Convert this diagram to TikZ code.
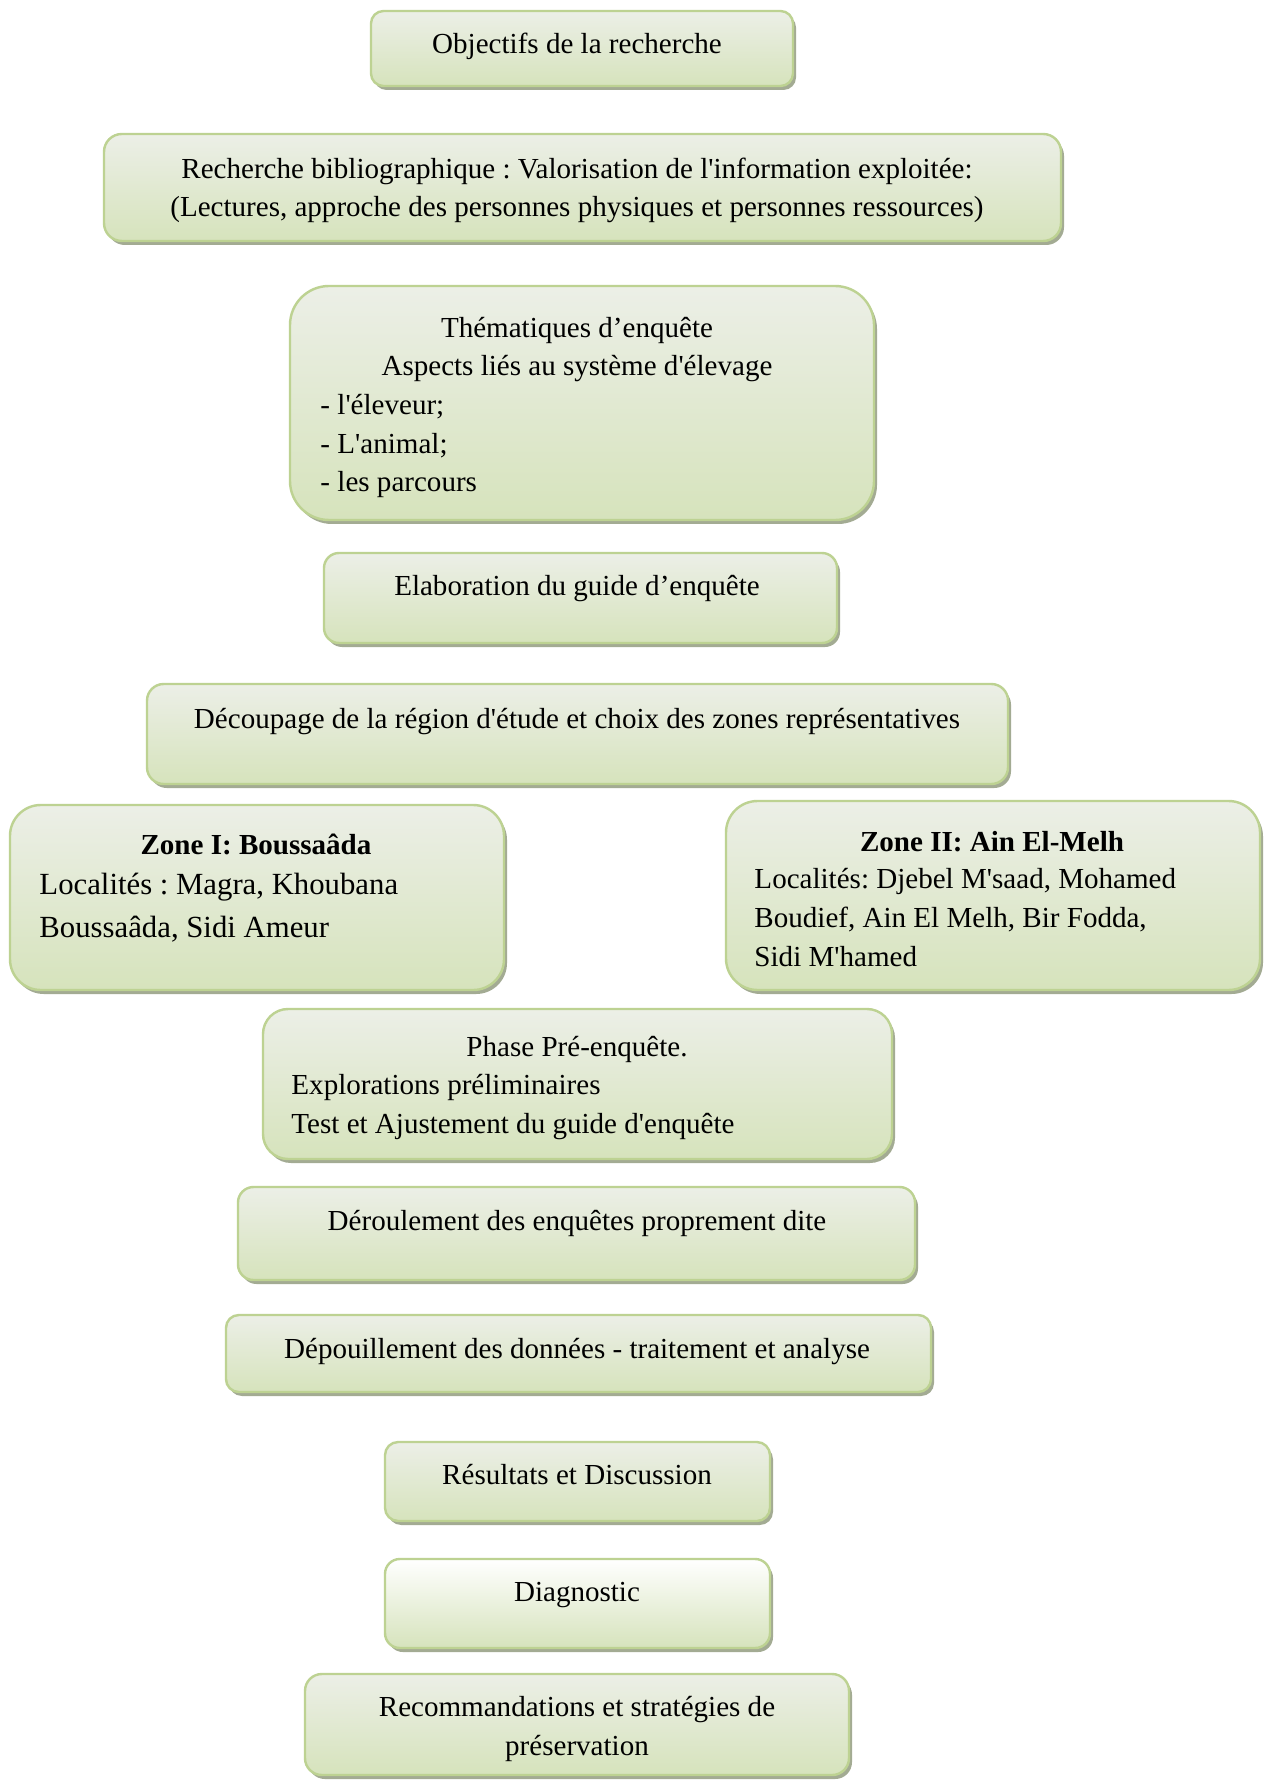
\documentclass[tikz,border=0pt]{standalone}
\usepackage{fontspec}
\setmainfont{Liberation Serif}
\usetikzlibrary{positioning}
\frenchspacing

\definecolor{cadre}{HTML}{BDD292}
\definecolor{hautbox}{HTML}{ECEFE7}
\definecolor{basbox}{HTML}{D6E3BC}
\definecolor{ombrebox}{HTML}{A3AB93}
\tikzstyle{etape}=[draw=cadre,line width=1pt,top color=hautbox,bottom color=basbox]
\tikzstyle{etapeclaire}=[draw=cadre,line width=1pt,top color=white,bottom color=basbox]
\tikzstyle{ombre}=[fill=ombrebox]
\tikzstyle{texte}=[inner sep=0pt,anchor=base,font=\fontsize{12}{16}\selectfont]
\tikzstyle{liste}=[inner sep=0pt,anchor=base west,align=left,font=\fontsize{12}{16}\selectfont]

% Straight apostrophe.
\newcommand{\apos}{\textquotesingle}

% Box with its shadow, corners rounded from its height.
\newcommand{\boite}[5][etape]{%
  \pgfmathsetmacro{\rayon}{0.413*(#5-#3)/6}
  \path[ombre,rounded corners=\rayon pt] (#2+3,#3+4) rectangle (#4+3,#5+4);
  \path[#1,rounded corners=\rayon pt] (#2,#3) rectangle (#4,#5);}

\begin{document}
\begin{tikzpicture}[x=0.413pt,y=-0.413pt]
  % Page.
  \useasboundingbox[fill=white] (0,0) rectangle (1265,1780);

  % Boxes.
  \boite{371}{11}{793}{86}
  \boite{104}{134}{1061}{241}
  \boite{290}{286}{874}{520}
  \boite{324}{553}{837}{643}
  \boite{147}{684}{1008}{784}
  \boite{10}{805}{504}{990}
  \boite{726}{801}{1260}{990}
  \boite{263}{1009}{892}{1159}
  \boite{238}{1187}{915}{1280}
  \boite{226}{1315}{931}{1392}
  \boite{385}{1442}{770}{1521}
  \boite[etapeclaire]{385}{1559}{770}{1648}
  \boite{305}{1674}{849}{1775}

  % Texts (multi-line nodes sit on their last line).
  \node[texte] (objectifs) at (577,54) {Objectifs de la recherche};
  \node[texte,align=center] (biblio) at (577,217)
    {Recherche bibliographique : Valorisation de l\apos information exploitée:\\
     (Lectures, approche des personnes physiques et personnes ressources)};
  \node[texte,align=center] (themes) at (577,376)
    {Thématiques d’enquête\\ Aspects liés au système d\apos élevage};
  \node[liste] (themes-liste) at (320,492)
    {- l\apos éleveur;\\ - L\apos animal;\\ - les parcours};
  \node[texte] (guide) at (577,595) {Elaboration du guide d’enquête};
  \node[texte] (decoupage) at (577,728)
    {Découpage de la région d\apos étude et choix des zones représentatives};

  % Zones.
  \node[texte,font=\fontsize{12}{16}\selectfont\bfseries] (zone1) at (256,854)
    {Zone I: Boussaâda};
  \node[liste,font=\fontsize{12.7}{17.6}\selectfont] (zone1-loc) at (39,937)
    {Localités : Magra, Khoubana\\ Boussaâda, Sidi Ameur};
  \node[texte,font=\fontsize{12}{16}\selectfont\bfseries] (zone2) at (992,851)
    {Zone II: Ain El-Melh};
  \node[liste] (zone2-loc) at (754,966)
    {Localités: Djebel M\apos saad, Mohamed\\ Boudief, Ain El Melh, Bir Fodda,\\ Sidi M\apos hamed};

  % Survey.
  \node[texte] (preenquete) at (577,1056) {Phase Pré-enquête.};
  \node[liste] (preenquete-liste) at (291,1133)
    {Explorations préliminaires\\ Test et Ajustement du guide d\apos enquête};
  \node[texte] (deroulement) at (577,1230)
    {Déroulement des enquêtes proprement dite};
  \node[texte] (depouillement) at (577,1358)
    {Dépouillement des données - traitement et analyse};
  \node[texte] (resultats) at (577,1484) {Résultats et Discussion};
  \node[texte] (diagnostic) at (577,1601) {Diagnostic};
  \node[texte,align=center] (recommandations) at (577,1755)
    {Recommandations et stratégies de\\ préservation};
\end{tikzpicture}
\end{document}
